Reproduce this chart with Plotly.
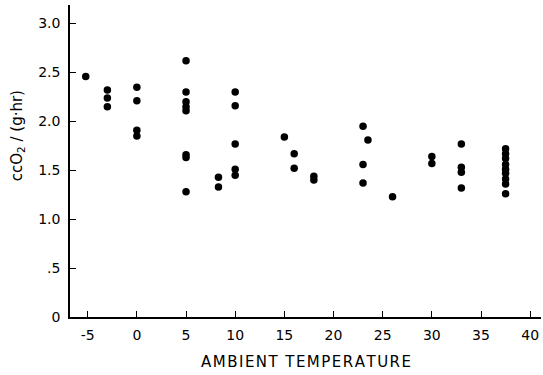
import plotly.graph_objects as go

# Ambient temperature (°C) and oxygen consumption (cc O2 / (g·hr))
temps = [-5.2,
         -3, -3, -3,
         0, 0, 0, 0,
         5, 5, 5, 5, 5, 5, 5, 5,
         8.3, 8.3,
         10, 10, 10, 10, 10,
         15,
         16, 16,
         18, 18,
         23, 23, 23,
         23.5,
         26,
         30, 30,
         33, 33, 33, 33,
         37.5, 37.5, 37.5, 37.5, 37.5, 37.5, 37.5, 37.5, 37.5]
vo2 = [2.46,
       2.32, 2.24, 2.15,
       2.35, 2.21, 1.91, 1.85,
       2.62, 2.30, 2.20, 2.15, 2.11, 1.66, 1.63, 1.28,
       1.43, 1.33,
       2.30, 2.16, 1.77, 1.51, 1.45,
       1.84,
       1.67, 1.52,
       1.44, 1.40,
       1.95, 1.56, 1.37,
       1.81,
       1.23,
       1.64, 1.57,
       1.77, 1.53, 1.48, 1.32,
       1.72, 1.67, 1.62, 1.56, 1.51, 1.47, 1.41, 1.36, 1.26]

x_ticks = [-5, 0, 5, 10, 15, 20, 25, 30, 35, 40]
x_labels = ["-5", "0", "5", "10", "15", "20", "25", "30", "35", "40"]
y_ticks = [0, 0.5, 1.0, 1.5, 2.0, 2.5, 3.0]
y_labels = ["0", ".5", "1.0", "1.5", "2.0", "2.5", "3.0"]
x_title = "AMBIENT TEMPERATURE"
y_title = "ccO<sub>2</sub> / (g·hr)"

fam = "DejaVu Sans, Liberation Sans, sans-serif"
font = dict(family=fam, size=14, color="black")

def spaced(s):
    hair = "\u200a"
    return "\u2002".join(hair.join(w) for w in s.split(" "))

fig = go.Figure()
fig.add_trace(go.Scatter(x=temps, y=vo2, mode="markers",
                         marker=dict(color="black", size=7.5),
                         showlegend=False, hoverinfo="skip"))

fig.update_layout(
    width=543, height=375,
    margin=dict(l=70, r=2, t=5, b=58),
    paper_bgcolor="white", plot_bgcolor="white",
    font=font,
    xaxis=dict(range=[-6.8, 41.1], tickvals=x_ticks, ticktext=x_labels,
               showgrid=False, zeroline=False, showline=True,
               linecolor="black", linewidth=1.5,
               ticks="inside", ticklen=6, tickwidth=1.3, tickcolor="black",
               tickfont=font, ticklabelstandoff=4),
    yaxis=dict(range=[0, 3.19], tickvals=y_ticks, ticktext=y_labels,
               showgrid=False, zeroline=False, showline=True,
               linecolor="black", linewidth=1.5,
               ticks="inside", ticklen=6, tickwidth=1.3, tickcolor="black",
               tickfont=font, ticklabelstandoff=5),
    annotations=[
        dict(text=spaced(x_title), xref="paper", yref="paper",
             x=0.5, y=-0.143, yanchor="middle", xanchor="center",
             showarrow=False, font=dict(family=fam, size=15, color="black")),
        dict(text=y_title, xref="paper", yref="paper",
             x=-0.112, y=0.58, xanchor="center", yanchor="middle", textangle=-90,
             showarrow=False, font=dict(family=fam, size=15, color="black")),
    ],
)

fig.write_html("out.html")
